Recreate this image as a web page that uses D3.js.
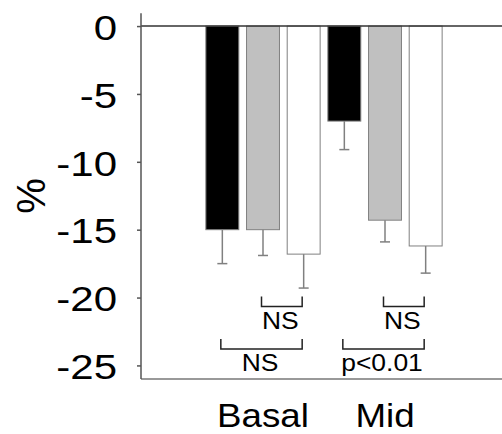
<!DOCTYPE html>
<html>
<head>
<meta charset="utf-8">
<script src="https://cdn.jsdelivr.net/npm/d3@7"></script>
<style>
  html, body { margin: 0; padding: 0; background: #fff; }
  svg { display: block; }
  text { font-family: "Liberation Sans", Arial, sans-serif; fill: #000; }
</style>
</head>
<body>
<svg id="chart" width="502" height="434"></svg>
<script>
// Regions and measurement series (percent change)
const categories = ["Basal", "Mid"];
const seriesNames = ["s1", "s2", "s3"];
const seriesColors = ["#000000", "#c0c0c0", "#ffffff"];
const means = {
  Basal: [-15.0, -15.0, -16.8],
  Mid:   [-7.0, -14.3, -16.2]
};
const errors = {
  Basal: [2.5, 1.9, 2.5],
  Mid:   [2.1, 1.6, 2.0]
};
const yTicks = [0, -5, -10, -15, -20, -25];
const yTickLabels = ["0", "-5", "-10", "-15", "-20", "-25"];
// Comparison brackets: category, from series index, to series index, level, label
const comparisons = [
  { cat: "Basal", from: 1, to: 2, level: 0, label: "NS" },
  { cat: "Basal", from: 0, to: 2, level: 1, label: "NS" },
  { cat: "Mid",   from: 1, to: 2, level: 0, label: "NS" },
  { cat: "Mid",   from: 0, to: 2, level: 1, label: "p<0.01" }
];

const svg = d3.select("#chart");
const axisX = 141, rightEdge = 502;

const y = d3.scaleLinear().domain([-26, 1]).range([379, 12.5]);
const x0 = d3.scaleBand().domain(categories).range([202, 446]).padding(0);
const x1 = d3.scaleBand().domain(d3.range(seriesNames.length))
  .range([0, x0.bandwidth()]).paddingInner(0.19).paddingOuter(0.095);

// Bottom frame line
svg.append("line")
  .attr("x1", axisX).attr("x2", rightEdge)
  .attr("y1", y(-26)).attr("y2", y(-26))
  .attr("stroke", "#777").attr("stroke-width", 1.5);

// Bars
const groups = svg.selectAll("g.cat").data(categories).join("g")
  .attr("class", "cat")
  .attr("transform", d => `translate(${x0(d)},0)`);

groups.selectAll("rect").data(c => means[c].map((v, i) => ({ c, i, v })))
  .join("rect")
  .attr("x", d => x1(d.i))
  .attr("width", x1.bandwidth())
  .attr("y", d => y(0))
  .attr("height", d => y(d.v) - y(0))
  .attr("fill", d => seriesColors[d.i])
  .attr("stroke", "#808080").attr("stroke-width", 1);

// Error bars (downward)
const errG = groups.selectAll("g.err").data(c => means[c].map((v, i) => ({ c, i, v, e: errors[c][i] })))
  .join("g").attr("class", "err")
  .attr("stroke", "#808080").attr("stroke-width", 1.5);
errG.append("line")
  .attr("x1", d => x1(d.i) + x1.bandwidth() / 2)
  .attr("x2", d => x1(d.i) + x1.bandwidth() / 2)
  .attr("y1", d => y(d.v)).attr("y2", d => y(d.v - d.e));
errG.append("line")
  .attr("x1", d => x1(d.i) + x1.bandwidth() / 2 - 5)
  .attr("x2", d => x1(d.i) + x1.bandwidth() / 2 + 5)
  .attr("y1", d => y(d.v - d.e)).attr("y2", d => y(d.v - d.e));

// Zero line
svg.append("line")
  .attr("x1", axisX).attr("x2", rightEdge)
  .attr("y1", y(0)).attr("y2", y(0))
  .attr("stroke", "#333").attr("stroke-width", 1.5);

// Y axis
const yAxis = d3.axisLeft(y).tickValues(yTicks).tickSize(4).tickSizeOuter(0)
  .tickFormat((d, i) => yTickLabels[i]);
const yg = svg.append("g").attr("transform", `translate(${axisX},0)`).call(yAxis);
yg.select(".domain").attr("stroke", "#555").attr("stroke-width", 1.5)
  .attr("d", `M0,${y(-26)}V${y(0.95)}`);
yg.selectAll(".tick line").attr("stroke", "#555").attr("stroke-width", 1.5);
const tickScale = 1.2;
yg.selectAll(".tick text")
  .attr("font-family", "Liberation Sans, Arial, sans-serif")
  .attr("font-size", 35)
  .attr("fill", "#000")
  .attr("x", -24 / tickScale)
  .attr("dy", "0.38em")
  .attr("transform", `scale(${tickScale},1)`);

// Y axis title
svg.append("text")
  .attr("transform", "translate(45,196) rotate(-90)")
  .attr("text-anchor", "middle")
  .attr("font-size", 40)
  .text("%");

// Category labels
categories.forEach(c => {
  svg.append("g")
    .attr("transform", `translate(${x0(c) + x0.bandwidth() / 2},426.5) scale(1.08,1)`)
    .append("text")
    .attr("text-anchor", "middle")
    .attr("font-size", 34)
    .text(c);
});

// Significance brackets
const levelTop = [296.5, 339], bracketH = 10;
const labelBase = [328.5, 371];
comparisons.forEach(cmp => {
  const xa = x0(cmp.cat) + x1(cmp.from) + x1.bandwidth() / 2 - 1.5;
  const xb = x0(cmp.cat) + x1(cmp.to) + x1.bandwidth() / 2 - 1.5;
  const top = levelTop[cmp.level];
  svg.append("path")
    .attr("d", `M${xa},${top}V${top + bracketH}H${xb}V${top}`)
    .attr("fill", "none").attr("stroke", "#222").attr("stroke-width", 1.5);
  svg.append("g")
    .attr("transform", `translate(${(xa + xb) / 2 - 1.5},${labelBase[cmp.level]}) scale(1.15,1)`)
    .append("text")
    .attr("text-anchor", "middle")
    .attr("font-size", 23)
    .text(cmp.label);
});
</script>
</body>
</html>
